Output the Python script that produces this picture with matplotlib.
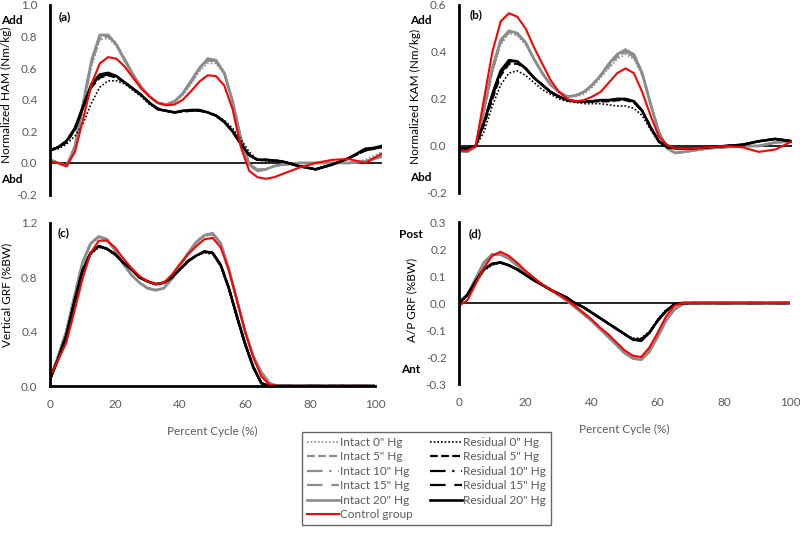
import matplotlib
matplotlib.use("Agg")
import matplotlib.pyplot as plt
from matplotlib.lines import Line2D

plt.rcParams['font.family'] = ['Lato', 'DejaVu Sans']

# percent of gait cycle (shared by every series)
pct = [0, 2.5, 5, 7.5, 10, 12.5, 15, 17.5, 20, 22.5, 25, 27.5, 30, 32.5, 35, 37.5,
       40, 42.5, 45, 47.5, 50, 52.5, 55, 57.5, 60, 62.5, 65, 67.5, 70, 75, 80, 85, 90, 95, 100]

pressures = ['0"', '5"', '10"', '15"', '20"']

# (a) hip adduction moment, Nm/kg
ham_intact_0 = [0.02, 0.0, -0.02, 0.09, 0.35, 0.61, 0.78, 0.79, 0.74, 0.65, 0.56, 0.48, 0.42, 0.38, 0.37, 0.38, 0.43, 0.50, 0.58, 0.63, 0.63, 0.56, 0.40, 0.17, 0.0, -0.04, -0.04, -0.02, -0.01, 0.0, 0.0, 0.0, 0.0, 0.02, 0.07]
ham_intact_5 = [0.02, 0.0, -0.02, 0.10, 0.37, 0.63, 0.79, 0.80, 0.75, 0.65, 0.56, 0.48, 0.42, 0.38, 0.37, 0.39, 0.44, 0.52, 0.60, 0.65, 0.64, 0.57, 0.39, 0.15, -0.01, -0.05, -0.04, -0.02, -0.01, 0.0, 0.0, 0.0, 0.0, 0.01, 0.05]
ham_intact_10 = [0.02, 0.0, -0.02, 0.11, 0.38, 0.64, 0.80, 0.81, 0.75, 0.66, 0.56, 0.48, 0.42, 0.38, 0.37, 0.39, 0.44, 0.51, 0.59, 0.65, 0.645, 0.57, 0.39, 0.15, -0.01, -0.04, -0.04, -0.02, -0.01, 0.0, 0.0, 0.0, 0.0, 0.01, 0.05]
ham_intact_15 = [0.02, 0.0, -0.02, 0.10, 0.38, 0.64, 0.81, 0.81, 0.75, 0.65, 0.56, 0.48, 0.42, 0.38, 0.37, 0.39, 0.44, 0.52, 0.60, 0.66, 0.65, 0.57, 0.39, 0.15, -0.01, -0.05, -0.04, -0.02, -0.01, 0.0, 0.0, 0.0, 0.0, 0.01, 0.05]
ham_intact_20 = [0.02, 0.0, -0.02, 0.10, 0.38, 0.65, 0.81, 0.81, 0.75, 0.65, 0.56, 0.48, 0.42, 0.38, 0.37, 0.39, 0.44, 0.52, 0.60, 0.66, 0.65, 0.57, 0.39, 0.15, -0.01, -0.05, -0.04, -0.02, -0.01, 0.0, 0.0, 0.0, 0.0, 0.01, 0.04]
ham_resid_0 = [0.08, 0.09, 0.12, 0.17, 0.25, 0.38, 0.48, 0.52, 0.52, 0.50, 0.46, 0.42, 0.37, 0.34, 0.33, 0.32, 0.33, 0.335, 0.33, 0.32, 0.30, 0.27, 0.22, 0.15, 0.07, 0.02, 0.01, 0.01, 0.01, -0.02, -0.04, -0.01, 0.03, 0.08, 0.10]
ham_resid_5 = [0.08, 0.10, 0.13, 0.21, 0.35, 0.48, 0.54, 0.555, 0.54, 0.51, 0.47, 0.43, 0.38, 0.345, 0.33, 0.32, 0.325, 0.33, 0.33, 0.32, 0.30, 0.26, 0.20, 0.12, 0.05, 0.02, 0.02, 0.015, 0.01, -0.02, -0.04, -0.01, 0.03, 0.08, 0.10]
ham_resid_10 = [0.08, 0.10, 0.14, 0.21, 0.35, 0.49, 0.55, 0.56, 0.545, 0.51, 0.47, 0.43, 0.38, 0.34, 0.33, 0.32, 0.33, 0.33, 0.335, 0.32, 0.30, 0.26, 0.20, 0.12, 0.05, 0.02, 0.02, 0.015, 0.01, -0.02, -0.04, -0.01, 0.03, 0.08, 0.11]
ham_resid_15 = [0.08, 0.10, 0.13, 0.22, 0.36, 0.49, 0.55, 0.56, 0.55, 0.51, 0.47, 0.43, 0.38, 0.34, 0.33, 0.32, 0.33, 0.335, 0.335, 0.32, 0.30, 0.26, 0.20, 0.12, 0.05, 0.02, 0.02, 0.015, 0.01, -0.02, -0.04, -0.01, 0.03, 0.08, 0.10]
ham_resid_20 = [0.08, 0.10, 0.14, 0.22, 0.36, 0.50, 0.56, 0.57, 0.55, 0.51, 0.47, 0.43, 0.38, 0.34, 0.33, 0.32, 0.33, 0.335, 0.335, 0.32, 0.30, 0.26, 0.20, 0.12, 0.05, 0.02, 0.02, 0.015, 0.01, -0.02, -0.04, -0.01, 0.03, 0.09, 0.10]
ham_control = [0.01, 0.0, -0.02, 0.07, 0.28, 0.50, 0.63, 0.67, 0.66, 0.61, 0.54, 0.47, 0.42, 0.38, 0.365, 0.37, 0.40, 0.455, 0.515, 0.555, 0.55, 0.49, 0.34, 0.10, -0.05, -0.09, -0.10, -0.09, -0.07, -0.03, 0.0, 0.02, 0.025, 0.0, 0.06]

# (b) knee adduction moment, Nm/kg
kam_intact_0 = [-0.02, -0.025, -0.005, 0.14, 0.31, 0.43, 0.48, 0.47, 0.43, 0.37, 0.31, 0.26, 0.23, 0.21, 0.21, 0.22, 0.25, 0.29, 0.33, 0.37, 0.39, 0.37, 0.30, 0.18, 0.06, -0.01, -0.03, -0.025, -0.02, -0.01, -0.005, 0.0, 0.0, 0.015, 0.02]
kam_intact_5 = [-0.02, -0.025, 0.0, 0.15, 0.32, 0.44, 0.485, 0.475, 0.44, 0.37, 0.31, 0.26, 0.23, 0.21, 0.215, 0.23, 0.26, 0.30, 0.34, 0.38, 0.40, 0.38, 0.31, 0.18, 0.06, -0.01, -0.03, -0.025, -0.02, -0.01, -0.005, 0.0, 0.0, 0.015, 0.02]
kam_intact_10 = [-0.02, -0.025, 0.0, 0.16, 0.33, 0.45, 0.49, 0.48, 0.44, 0.37, 0.31, 0.26, 0.23, 0.21, 0.215, 0.23, 0.26, 0.30, 0.35, 0.39, 0.40, 0.38, 0.31, 0.18, 0.06, -0.01, -0.03, -0.025, -0.02, -0.01, -0.005, 0.0, 0.0, 0.015, 0.02]
kam_intact_15 = [-0.02, -0.025, 0.0, 0.16, 0.33, 0.45, 0.49, 0.48, 0.44, 0.37, 0.31, 0.26, 0.23, 0.21, 0.215, 0.23, 0.26, 0.30, 0.35, 0.39, 0.41, 0.39, 0.31, 0.18, 0.06, -0.01, -0.03, -0.025, -0.02, -0.01, -0.005, 0.0, 0.0, 0.015, 0.02]
kam_intact_20 = [-0.02, -0.025, 0.0, 0.16, 0.33, 0.45, 0.49, 0.48, 0.44, 0.37, 0.31, 0.26, 0.23, 0.21, 0.215, 0.23, 0.26, 0.30, 0.35, 0.39, 0.41, 0.39, 0.31, 0.18, 0.06, -0.01, -0.03, -0.025, -0.02, -0.01, -0.005, 0.0, 0.0, 0.015, 0.02]
kam_resid_0 = [-0.01, -0.01, -0.005, 0.06, 0.17, 0.26, 0.31, 0.32, 0.30, 0.27, 0.24, 0.22, 0.20, 0.19, 0.185, 0.18, 0.18, 0.18, 0.175, 0.17, 0.17, 0.16, 0.13, 0.07, 0.015, -0.005, -0.01, -0.01, -0.01, -0.005, 0.0, 0.005, 0.02, 0.03, 0.02]
kam_resid_5 = [-0.01, -0.01, 0.0, 0.09, 0.20, 0.30, 0.35, 0.35, 0.33, 0.29, 0.26, 0.23, 0.21, 0.195, 0.19, 0.19, 0.19, 0.19, 0.19, 0.195, 0.195, 0.185, 0.15, 0.08, 0.02, -0.005, -0.01, -0.01, -0.01, -0.005, 0.0, 0.005, 0.02, 0.03, 0.02]
kam_resid_10 = [-0.01, -0.01, 0.0, 0.10, 0.21, 0.31, 0.355, 0.355, 0.33, 0.29, 0.26, 0.23, 0.21, 0.195, 0.19, 0.19, 0.19, 0.19, 0.195, 0.195, 0.20, 0.19, 0.15, 0.08, 0.02, -0.005, -0.01, -0.01, -0.01, -0.005, 0.0, 0.005, 0.02, 0.03, 0.02]
kam_resid_15 = [-0.01, -0.01, 0.0, 0.10, 0.22, 0.32, 0.36, 0.36, 0.33, 0.29, 0.26, 0.23, 0.21, 0.195, 0.19, 0.19, 0.19, 0.195, 0.195, 0.20, 0.20, 0.19, 0.15, 0.08, 0.02, -0.005, -0.01, -0.01, -0.01, -0.005, 0.0, 0.005, 0.02, 0.03, 0.02]
kam_resid_20 = [-0.01, -0.01, 0.0, 0.10, 0.22, 0.32, 0.365, 0.36, 0.33, 0.29, 0.26, 0.23, 0.21, 0.195, 0.19, 0.19, 0.19, 0.195, 0.195, 0.20, 0.20, 0.19, 0.15, 0.08, 0.02, -0.005, -0.01, -0.01, -0.01, -0.005, 0.0, 0.005, 0.02, 0.03, 0.02]
kam_control = [-0.02, -0.02, 0.0, 0.20, 0.40, 0.53, 0.565, 0.55, 0.50, 0.42, 0.35, 0.28, 0.23, 0.20, 0.19, 0.195, 0.21, 0.23, 0.27, 0.31, 0.33, 0.31, 0.23, 0.13, 0.04, 0.005, -0.01, -0.01, -0.01, -0.005, 0.0, -0.005, -0.025, -0.015, 0.02]

# (c) vertical ground reaction force, %BW
vgrf_intact_0 = [0.05, 0.21, 0.39, 0.64, 0.89, 1.04, 1.09, 1.07, 1.00, 0.90, 0.82, 0.76, 0.72, 0.71, 0.72, 0.79, 0.88, 0.97, 1.05, 1.10, 1.11, 1.05, 0.87, 0.64, 0.41, 0.23, 0.10, 0.02, 0.0, 0.0, 0.0, 0.0, 0.0, 0.0, 0.0]
vgrf_intact_5 = [0.05, 0.22, 0.40, 0.65, 0.90, 1.05, 1.10, 1.08, 1.00, 0.90, 0.82, 0.76, 0.72, 0.705, 0.72, 0.79, 0.89, 0.98, 1.06, 1.11, 1.12, 1.05, 0.86, 0.63, 0.40, 0.22, 0.10, 0.02, 0.0, 0.0, 0.0, 0.0, 0.0, 0.0, 0.0]
vgrf_intact_10 = [0.05, 0.22, 0.40, 0.66, 0.91, 1.05, 1.10, 1.08, 1.00, 0.90, 0.82, 0.76, 0.72, 0.705, 0.72, 0.79, 0.89, 0.98, 1.06, 1.11, 1.12, 1.05, 0.86, 0.63, 0.40, 0.22, 0.10, 0.02, 0.0, 0.0, 0.0, 0.0, 0.0, 0.0, 0.0]
vgrf_intact_15 = [0.05, 0.22, 0.40, 0.66, 0.91, 1.05, 1.10, 1.08, 1.00, 0.90, 0.82, 0.76, 0.72, 0.705, 0.72, 0.79, 0.89, 0.98, 1.06, 1.11, 1.12, 1.05, 0.86, 0.63, 0.40, 0.22, 0.10, 0.02, 0.0, 0.0, 0.0, 0.0, 0.0, 0.0, 0.0]
vgrf_intact_20 = [0.05, 0.22, 0.40, 0.66, 0.91, 1.05, 1.10, 1.08, 1.00, 0.90, 0.82, 0.76, 0.72, 0.705, 0.72, 0.79, 0.89, 0.98, 1.06, 1.11, 1.125, 1.05, 0.86, 0.63, 0.40, 0.22, 0.10, 0.02, 0.0, 0.0, 0.0, 0.0, 0.0, 0.0, 0.0]
vgrf_resid_0 = [0.05, 0.19, 0.35, 0.60, 0.83, 0.97, 1.02, 1.01, 0.97, 0.91, 0.86, 0.80, 0.77, 0.75, 0.76, 0.80, 0.86, 0.92, 0.96, 0.98, 0.97, 0.88, 0.71, 0.50, 0.30, 0.13, 0.02, 0.0, 0.0, 0.0, 0.0, 0.0, 0.0, 0.0, 0.0]
vgrf_resid_5 = [0.05, 0.20, 0.37, 0.62, 0.85, 0.98, 1.03, 1.01, 0.97, 0.91, 0.86, 0.80, 0.77, 0.75, 0.76, 0.80, 0.86, 0.92, 0.96, 0.99, 0.98, 0.89, 0.72, 0.51, 0.31, 0.14, 0.02, 0.0, 0.0, 0.0, 0.0, 0.0, 0.0, 0.0, 0.0]
vgrf_resid_10 = [0.05, 0.20, 0.37, 0.62, 0.85, 0.98, 1.03, 1.01, 0.97, 0.91, 0.86, 0.80, 0.77, 0.75, 0.76, 0.80, 0.86, 0.92, 0.96, 0.99, 0.98, 0.89, 0.72, 0.51, 0.31, 0.14, 0.02, 0.0, 0.0, 0.0, 0.0, 0.0, 0.0, 0.0, 0.0]
vgrf_resid_15 = [0.05, 0.20, 0.37, 0.62, 0.85, 0.98, 1.03, 1.01, 0.97, 0.91, 0.86, 0.80, 0.77, 0.75, 0.76, 0.80, 0.86, 0.92, 0.96, 0.99, 0.98, 0.89, 0.72, 0.51, 0.31, 0.14, 0.02, 0.0, 0.0, 0.0, 0.0, 0.0, 0.0, 0.0, 0.0]
vgrf_resid_20 = [0.05, 0.20, 0.37, 0.62, 0.85, 0.98, 1.03, 1.01, 0.97, 0.91, 0.86, 0.80, 0.77, 0.75, 0.76, 0.80, 0.86, 0.92, 0.96, 0.99, 0.98, 0.89, 0.72, 0.51, 0.31, 0.14, 0.02, 0.0, 0.0, 0.0, 0.0, 0.0, 0.0, 0.0, 0.0]
vgrf_control = [0.07, 0.19, 0.32, 0.55, 0.79, 0.98, 1.07, 1.07, 1.02, 0.94, 0.87, 0.81, 0.77, 0.75, 0.76, 0.82, 0.90, 0.97, 1.03, 1.08, 1.09, 1.02, 0.85, 0.63, 0.40, 0.21, 0.07, 0.01, 0.0, 0.0, 0.0, 0.0, 0.0, 0.0, 0.0]

# (d) anterior/posterior ground reaction force, %BW
apgrf_intact_0 = [0.0, 0.03, 0.09, 0.145, 0.175, 0.18, 0.165, 0.14, 0.115, 0.09, 0.07, 0.05, 0.03, 0.01, -0.015, -0.04, -0.065, -0.095, -0.125, -0.155, -0.18, -0.20, -0.205, -0.175, -0.12, -0.06, -0.02, -0.005, 0.0, 0.0, 0.0, 0.0, 0.0, 0.0, 0.0]
apgrf_intact_5 = [0.0, 0.03, 0.09, 0.15, 0.18, 0.18, 0.165, 0.14, 0.115, 0.09, 0.07, 0.05, 0.03, 0.01, -0.015, -0.04, -0.065, -0.095, -0.125, -0.155, -0.185, -0.205, -0.21, -0.18, -0.125, -0.065, -0.025, -0.005, 0.0, 0.0, 0.0, 0.0, 0.0, 0.0, 0.0]
apgrf_intact_10 = [0.0, 0.03, 0.09, 0.15, 0.18, 0.18, 0.165, 0.14, 0.115, 0.09, 0.07, 0.05, 0.03, 0.01, -0.015, -0.04, -0.065, -0.095, -0.125, -0.155, -0.185, -0.205, -0.21, -0.18, -0.125, -0.065, -0.025, -0.005, 0.0, 0.0, 0.0, 0.0, 0.0, 0.0, 0.0]
apgrf_intact_15 = [0.0, 0.03, 0.09, 0.15, 0.18, 0.18, 0.165, 0.14, 0.115, 0.09, 0.07, 0.05, 0.03, 0.01, -0.015, -0.04, -0.065, -0.095, -0.125, -0.155, -0.185, -0.205, -0.21, -0.18, -0.125, -0.065, -0.025, -0.005, 0.0, 0.0, 0.0, 0.0, 0.0, 0.0, 0.0]
apgrf_intact_20 = [0.0, 0.03, 0.09, 0.15, 0.18, 0.18, 0.165, 0.14, 0.115, 0.09, 0.07, 0.05, 0.03, 0.01, -0.015, -0.04, -0.065, -0.095, -0.125, -0.155, -0.185, -0.205, -0.21, -0.18, -0.125, -0.065, -0.025, -0.005, 0.0, 0.0, 0.0, 0.0, 0.0, 0.0, 0.0]
apgrf_resid_0 = [0.0, 0.03, 0.075, 0.12, 0.14, 0.15, 0.14, 0.125, 0.105, 0.085, 0.068, 0.05, 0.035, 0.02, 0.0, -0.015, -0.035, -0.055, -0.075, -0.095, -0.115, -0.13, -0.13, -0.105, -0.06, -0.025, -0.005, 0.0, 0.0, 0.0, 0.0, 0.0, 0.0, 0.0, 0.0]
apgrf_resid_5 = [0.0, 0.03, 0.08, 0.125, 0.145, 0.15, 0.14, 0.125, 0.105, 0.085, 0.068, 0.05, 0.035, 0.02, 0.0, -0.015, -0.035, -0.055, -0.075, -0.095, -0.115, -0.135, -0.135, -0.11, -0.065, -0.03, -0.005, 0.0, 0.0, 0.0, 0.0, 0.0, 0.0, 0.0, 0.0]
apgrf_resid_10 = [0.0, 0.03, 0.08, 0.125, 0.145, 0.15, 0.14, 0.125, 0.105, 0.085, 0.068, 0.05, 0.035, 0.02, 0.0, -0.015, -0.035, -0.055, -0.075, -0.095, -0.115, -0.135, -0.135, -0.11, -0.065, -0.03, -0.005, 0.0, 0.0, 0.0, 0.0, 0.0, 0.0, 0.0, 0.0]
apgrf_resid_15 = [0.0, 0.03, 0.08, 0.125, 0.145, 0.15, 0.14, 0.125, 0.105, 0.085, 0.068, 0.05, 0.035, 0.02, 0.0, -0.015, -0.035, -0.055, -0.075, -0.095, -0.115, -0.135, -0.135, -0.11, -0.065, -0.03, -0.005, 0.0, 0.0, 0.0, 0.0, 0.0, 0.0, 0.0, 0.0]
apgrf_resid_20 = [0.0, 0.03, 0.08, 0.125, 0.145, 0.15, 0.14, 0.125, 0.105, 0.085, 0.068, 0.05, 0.035, 0.02, 0.0, -0.015, -0.035, -0.055, -0.075, -0.095, -0.115, -0.135, -0.14, -0.11, -0.065, -0.03, -0.005, 0.0, 0.0, 0.0, 0.0, 0.0, 0.0, 0.0, 0.0]
apgrf_control = [-0.01, 0.01, 0.07, 0.13, 0.175, 0.19, 0.175, 0.15, 0.12, 0.095, 0.07, 0.05, 0.033, 0.012, -0.01, -0.035, -0.06, -0.09, -0.115, -0.145, -0.175, -0.195, -0.20, -0.165, -0.11, -0.05, -0.01, 0.0, 0.0, 0.0, 0.0, 0.0, 0.0, 0.0, 0.0]

INTACT = '#8c8c8c'
RESID = 'black'
CONTROL = '#ff0000'
TICK = '#595959'
dash_styles = [(0, (1, 1.2)), (0, (3.5, 1.5)), (0, (7, 3, 1, 3)), (0, (7, 4)), '-']
dash_widths = [1.2, 1.6, 1.6, 1.6, 1.9]


def draw_panel(ax, intact, resid, control, ylim, yticks, fmt, zero_line=True):
    for ys, ls, lw in zip(intact, dash_styles, dash_widths):
        ax.plot(pct, ys, color=INTACT, linestyle=ls, linewidth=lw)
    for ys, ls, lw in zip(resid, dash_styles, dash_widths):
        ax.plot(pct, ys, color=RESID, linestyle=ls, linewidth=lw)
    ax.plot(pct, control, color=CONTROL, linewidth=1.5)
    ax.set_xlim(0, 100)
    ax.set_ylim(*ylim)
    ax.set_yticks(yticks)
    ax.set_yticklabels([fmt.format(v) for v in yticks])
    ax.set_xticks([0, 20, 40, 60, 80, 100])
    for s in ['top', 'right']:
        ax.spines[s].set_visible(False)
    ax.spines['left'].set_linewidth(2)
    if zero_line:
        ax.spines['bottom'].set_visible(False)
        ax.axhline(0, color='black', linewidth=1.2, zorder=1)
    else:
        ax.spines['bottom'].set_linewidth(2)
    ax.tick_params(length=0, labelsize=8.5, labelcolor=TICK, pad=9)


fig = plt.figure(figsize=(8, 5.35), dpi=100)
ax_a = fig.add_axes([0.0625, 0.6363, 0.415, 0.3544])
ax_b = fig.add_axes([0.5738, 0.6393, 0.4162, 0.3514])
ax_c = fig.add_axes([0.0625, 0.2785, 0.4065, 0.3047])
ax_d = fig.add_axes([0.5738, 0.2822, 0.4138, 0.3028])

draw_panel(ax_a, [ham_intact_0, ham_intact_5, ham_intact_10, ham_intact_15, ham_intact_20],
           [ham_resid_0, ham_resid_5, ham_resid_10, ham_resid_15, ham_resid_20], ham_control,
           (-0.2, 1.0), [-0.2, 0.0, 0.2, 0.4, 0.6, 0.8, 1.0], '{:.1f}')
draw_panel(ax_b, [kam_intact_0, kam_intact_5, kam_intact_10, kam_intact_15, kam_intact_20],
           [kam_resid_0, kam_resid_5, kam_resid_10, kam_resid_15, kam_resid_20], kam_control,
           (-0.2, 0.6), [-0.2, 0.0, 0.2, 0.4, 0.6], '{:.1f}')
draw_panel(ax_c, [vgrf_intact_0, vgrf_intact_5, vgrf_intact_10, vgrf_intact_15, vgrf_intact_20],
           [vgrf_resid_0, vgrf_resid_5, vgrf_resid_10, vgrf_resid_15, vgrf_resid_20], vgrf_control,
           (0.0, 1.2), [0.0, 0.4, 0.8, 1.2], '{:.1f}', zero_line=False)
draw_panel(ax_d, [apgrf_intact_0, apgrf_intact_5, apgrf_intact_10, apgrf_intact_15, apgrf_intact_20],
           [apgrf_resid_0, apgrf_resid_5, apgrf_resid_10, apgrf_resid_15, apgrf_resid_20], apgrf_control,
           (-0.3, 0.3), [-0.3, -0.2, -0.1, 0.0, 0.1, 0.2, 0.3], '{:.1f}')

ax_a.set_xticklabels([])
ax_b.set_xticklabels([])

ax_a.set_ylabel('Normalized HAM (Nm/kg)', fontsize=8.5)
ax_a.yaxis.set_label_coords(-0.114, 0.525)
ax_b.set_ylabel('Normalized KAM (Nm/kg)', fontsize=8.5)
ax_b.yaxis.set_label_coords(-0.114, 0.515)
ax_c.set_ylabel('Vertical GRF (%BW)', fontsize=8.5)
ax_c.yaxis.set_label_coords(-0.117, 0.56)
ax_d.set_ylabel('A/P GRF (%BW)', fontsize=8.5)
ax_d.yaxis.set_label_coords(-0.127, 0.52)

for ax in (ax_c, ax_d):
    ax.set_xlabel('Percent Cycle (%)', fontsize=8.5, color=TICK, labelpad=12)

side = dict(fontsize=8.5, fontweight='bold', ha='center', va='center')
ax_a.text(-0.114, 0.92, 'Add', transform=ax_a.transAxes, **side)
ax_a.text(-0.114, 0.08, 'Abd', transform=ax_a.transAxes, **side)
ax_b.text(-0.114, 0.915, 'Add', transform=ax_b.transAxes, **side)
ax_b.text(-0.114, 0.08, 'Abd', transform=ax_b.transAxes, **side)
ax_d.text(-0.145, 0.926, 'Post', transform=ax_d.transAxes, **side)
ax_d.text(-0.145, 0.09, 'Ant', transform=ax_d.transAxes, **side)

for ax, lab, (px, py) in [(ax_a, '(a)', (0.045, 0.937)), (ax_b, '(b)', (0.05, 0.95)),
                          (ax_c, '(c)', (0.043, 0.94)), (ax_d, '(d)', (0.05, 0.93))]:
    ax.text(px, py, lab, transform=ax.transAxes, fontsize=8.5, fontweight='bold',
            ha='center', va='center')

handles = []
labels = []
for p, ls, lw in zip(pressures, dash_styles, dash_widths):
    handles.append(Line2D([], [], color=INTACT, linestyle=ls, linewidth=lw))
    labels.append('Intact ' + p + ' Hg')
handles.append(Line2D([], [], color=CONTROL, linewidth=1.5))
labels.append('Control group')
for p, ls, lw in zip(pressures, dash_styles, dash_widths):
    handles.append(Line2D([], [], color=RESID, linestyle=ls, linewidth=lw))
    labels.append('Residual ' + p + ' Hg')

leg = fig.legend(handles, labels, ncol=2, loc='center', bbox_to_anchor=(0.533, 0.1055),
                 fontsize=8.5, frameon=True, fancybox=False, edgecolor='#404040',
                 handlelength=2.7, handletextpad=0.1, columnspacing=1.5,
                 labelspacing=0.3, borderpad=0.4)
leg.get_frame().set_linewidth(1.0)
for t in leg.get_texts():
    t.set_color(TICK)

fig.savefig('out.png', dpi=100)
